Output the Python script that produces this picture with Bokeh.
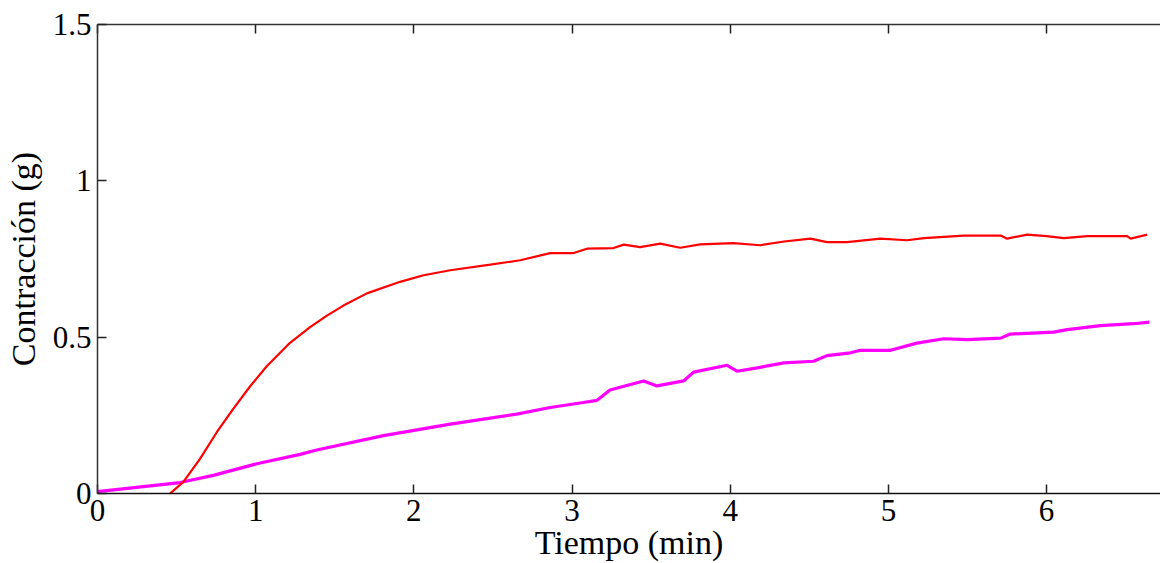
from bokeh.plotting import figure
from bokeh.models import LinearAxis, FixedTicker, Range1d, CustomLabelingPolicy
from bokeh.embed import file_html
from bokeh.resources import INLINE

# Data (minutes, grams)
red_t = [0.459, 0.543, 0.648, 0.754, 0.857, 0.965, 1.070, 1.217, 1.344, 1.450, 1.555,
         1.703, 1.913, 2.061, 2.230, 2.483, 2.672, 2.862, 3.01, 3.094, 3.262, 3.327,
         3.43, 3.557, 3.684, 3.81, 4.02, 4.19, 4.34, 4.507, 4.612, 4.738, 4.95, 5.118,
         5.224, 5.476, 5.71, 5.75, 5.877, 6.0, 6.109, 6.257, 6.51, 6.531, 6.636]
red_g = [0.0, 0.037, 0.111, 0.196, 0.270, 0.343, 0.407, 0.482, 0.532, 0.569, 0.601,
         0.640, 0.677, 0.698, 0.714, 0.732, 0.746, 0.769, 0.769, 0.783, 0.785, 0.796,
         0.788, 0.799, 0.786, 0.797, 0.801, 0.794, 0.806, 0.815, 0.804, 0.804, 0.815, 0.810,
         0.817, 0.825, 0.825, 0.815, 0.828, 0.823, 0.817, 0.823, 0.823, 0.815, 0.828]

mag_t = [0.0, 0.522, 0.732, 1.007, 1.281, 1.386, 1.808, 2.23, 2.65, 2.862, 3.07,
         3.158, 3.24, 3.452, 3.537, 3.705, 3.768, 3.98, 4.043, 4.17, 4.34, 4.527,
         4.612, 4.76, 4.823, 5.013, 5.18, 5.35, 5.497, 5.71, 5.77, 6.045, 6.13,
         6.34, 6.55, 6.65]
mag_g = [0.006, 0.035, 0.058, 0.095, 0.125, 0.139, 0.185, 0.222, 0.254, 0.275, 0.291,
         0.298, 0.331, 0.360, 0.344, 0.360, 0.388, 0.410, 0.391, 0.402, 0.418, 0.423,
         0.441, 0.450, 0.458, 0.458, 0.481, 0.495, 0.492, 0.497, 0.510, 0.516, 0.524,
         0.537, 0.543, 0.548]

x_ticks = [0, 1, 2, 3, 4, 5, 6]
y_ticks = [0, 0.5, 1, 1.5]
y_labels = {0: "0", 0.5: "0.5", 1: "1", 1.5: "1.5"}

FONT = "Liberation Serif"

p = figure(width=1160, height=563, output_backend="svg", toolbar_location=None,
           x_range=Range1d(0, 6.72), y_range=Range1d(0, 1.5),
           min_border_top=22, min_border_right=0, min_border_left=97, min_border_bottom=66)
p.outline_line_color = None
p.xgrid.visible = False
p.ygrid.visible = False
p.background_fill_color = "white"
p.border_fill_color = "white"

p.line(mag_t, mag_g, line_color="#FF00FF", line_width=3.2)
p.line(red_t, red_g, line_color="#FF0000", line_width=2.2)

def style(ax):
    ax.major_tick_in = 9
    ax.major_tick_out = 0
    ax.minor_tick_line_color = None
    ax.major_tick_line_color = "#222222"
    ax.major_tick_line_width = 1.5
    ax.axis_line_color = "#333333"
    ax.axis_line_width = 1.5
    ax.major_label_text_font = FONT
    ax.major_label_text_color = "black"
    ax.major_label_text_font_size = "31px"

xa = p.xaxis[0]
xa.ticker = FixedTicker(ticks=x_ticks)
style(xa)
xa.major_label_standoff = 6
xa.axis_label = "Tiempo (min)"
xa.axis_label_text_font = FONT
xa.axis_label_text_font_style = "normal"
xa.axis_label_text_font_size = "34px"
xa.axis_label_text_color = "black"
xa.axis_label_standoff = 0
xa.axis_line_color = "#111111"

ya = p.yaxis[0]
ya.ticker = FixedTicker(ticks=y_ticks)
ya.major_label_overrides = y_labels
style(ya)
ya.major_label_standoff = 6
ya.axis_label = "Contracción (g)"
ya.axis_label_text_font = FONT
ya.axis_label_text_font_style = "normal"
ya.axis_label_text_font_size = "34px"
ya.axis_label_text_color = "black"
ya.axis_label_standoff = 8

# top frame edge with inward ticks, no labels
top = LinearAxis(ticker=FixedTicker(ticks=x_ticks))
style(top)
top.major_label_standoff = 0
top.major_label_policy = CustomLabelingPolicy(code="""
for (let i = 0; i < indices.size; i++) { indices.set(i, false) }
return indices
""")
p.add_layout(top, "above")

open("out.html", "w").write(file_html(p, INLINE))
